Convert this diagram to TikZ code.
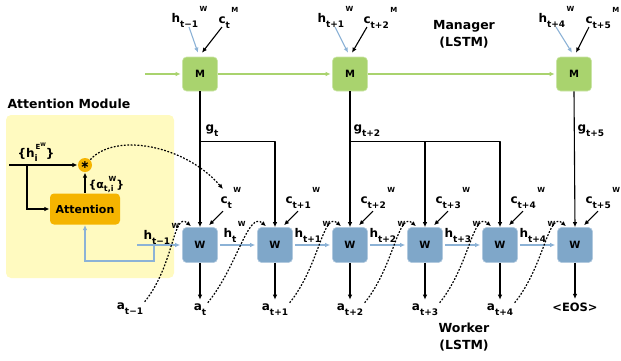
\documentclass[tikz,border=0pt]{standalone}
\usepackage{fontspec}
\setmainfont{DejaVu Sans}
\usetikzlibrary{arrows.meta,calc}
\definecolor{mgreen}{RGB}{169,211,110}
\definecolor{wblue}{RGB}{127,167,201}
\definecolor{lblue}{RGB}{140,178,214}
\definecolor{attorange}{RGB}{245,180,0}
\definecolor{attyellow}{RGB}{255,250,192}
\newcommand{\tvar}[3]{#1\raisebox{-5pt}{\fontsize{9}{9}\selectfont#2}\hspace{1.5pt}\raisebox{11pt}{\fontsize{7}{7}\selectfont#3}}
\newcommand{\tsub}[2]{#1\raisebox{-5pt}{\fontsize{9}{9}\selectfont#2}}
\begin{document}
\begin{tikzpicture}[x=1pt,y=-1pt,line join=round,line width=1.1pt,>={Latex[length=5pt,width=4.5pt]}]
\tikzset{every node/.style={inner sep=0pt,font=\bfseries\fontsize{12}{12}\selectfont},
  mgr/.style={fill=mgreen,draw=mgreen!60!white,line width=0.6pt,rounded corners=4pt,minimum width=35pt,minimum height=34pt,font=\bfseries\fontsize{10}{10}\selectfont},
  wrk/.style={fill=wblue,draw=wblue!60!white,line width=0.6pt,rounded corners=4pt,minimum width=35pt,minimum height=35pt,font=\bfseries\fontsize{10}{10}\selectfont},
  lab/.style={anchor=base west},
  outlab/.style={anchor=base},
  title/.style={font=\bfseries\fontsize{12.5}{17}\selectfont,align=center},
  garrow/.style={mgreen,->},
  barrow/.style={lblue,->},
  dots/.style={->,dash pattern=on 1.8pt off 1.6pt,line width=1.2pt}}
\useasboundingbox (0,0) rectangle (621,360);
\fill[attyellow,rounded corners=5pt] (6,115) rectangle (174,278);
\node[lab,font=\bfseries\fontsize{12.5}{12.5}\selectfont] (atttitle) at (7,108) {Attention Module};
\node[title] (mgrtitle) at (464,34) {Manager\\(LSTM)};
\node[title] (wrktitle) at (464,337) {Worker\\(LSTM)};
\node[mgr] (m1) at (200,74) {M};
\node[mgr] (m2) at (350,74) {M};
\node[mgr] (m3) at (574,74) {M};
\foreach \i in {1,...,6}
  \node[wrk] (w\i) at ({125+75*\i},245) {W};
\node[fill=attorange,rounded corners=4pt,minimum width=70pt,minimum height=31pt,font=\bfseries\fontsize{11}{11}\selectfont] (att) at (85,209) {Attention};
\node[circle,fill=attorange,minimum size=14pt,font=\bfseries\fontsize{11}{11}\selectfont] (star) at (85,165) {∗};
\node[lab] (hm1) at (171,22) {\tvar{h}{t−1}{W}};
\node[lab] (cm1) at (218,23) {\tvar{c}{t}{M}};
\node[lab] (hm2) at (317,22) {\tvar{h}{t+1}{W}};
\node[lab] (cm2) at (363,23) {\tvar{c}{t+2}{M}};
\node[lab] (hm3) at (538,22) {\tvar{h}{t+4}{W}};
\node[lab] (cm3) at (585,23) {\tvar{c}{t+5}{M}};
\foreach \i in {1,2,3}{
  \draw[barrow] ($(hm\i.base west)+(18,5)$) -- ($(m\i.north)+(-2,-4)$);
  \draw[->] ($(cm\i.base west)+(4,4)$) -- ($(m\i.north)+(2,-4)$);
}
\coordinate (mstart) at (145,74);
\draw[garrow,shorten >=1.5pt] (mstart) -- (m1.west);
\draw[garrow,shorten >=1.5pt] (m1.east) -- (m2.west);
\draw[garrow,shorten >=1.5pt] (m2.east) -- (m3.west);
\draw[->] (m1.south) -- (w1.north);
\draw[->] ($(m1.south)+(0,50)$) -| (w2.north);
\draw[->] (m2.south) -- (w3.north);
\path ($(m2.south)+(0,50)$) coordinate (g2);
\draw[->] (g2) -| (w5.north);
\draw[->] (g2 -| w4.north) -- (w4.north);
\draw[->] (m3.south) -- (w6.north);
\node[lab] (gt1) at (205,131) {\tsub{g}{t}};
\node[lab] (gt2) at (353,131) {\tsub{g}{t+2}};
\node[lab] (gt3) at (577,131) {\tsub{g}{t+5}};
\foreach \i/\cx/\s in {1/220/t,2/285/t+1,3/360/t+2,4/435/t+3,5/510/t+4,6/585/t+5}{
  \node[lab] (cw\i) at (\cx,203) {\tvar{c}{\s}{W}};
  \draw[->] ($(w\i.north)+(23,-16)$) -- ($(w\i.north)+(9,-2)$);
}
\node[lab] (hw0) at (143,239) {\tvar{h}{t−1}{W}};
\node[lab] (hw1) at (223,237) {\tvar{h}{t}{W}};
\foreach \i/\s in {2/t+1,3/t+2,4/t+3,5/t+4}
  \node[lab] (hw\i) at ({144+75*\i},237) {\tvar{h}{\s}{W}};
\foreach \i/\j in {1/2,2/3,3/4,4/5,5/6}
  \draw[barrow,shorten <=2pt,shorten >=2pt] (w\i.east) -- (w\j.west);
\coordinate (hprev) at (137,245);
\coordinate (hsplit) at (154,245);
\draw[barrow,shorten >=2pt] (hprev) -- (w1.west);
\draw[barrow,line join=miter] (hsplit) -- ++(0,16) -| (att.south);
\coordinate (hein) at (9,165);
\coordinate (hesplit) at (27,165);
\draw[->] (hein) -- (star.west);
\draw[->,line join=miter] (hesplit) |- (att.west);
\node[lab] (helab) at (17,157) {\{h\rlap{\raisebox{-4pt}{\fontsize{9}{9}\selectfont i}}\hspace{1pt}\raisebox{8pt}{\fontsize{7}{7}\selectfont E\raisebox{3pt}{\fontsize{5}{5}\selectfont W}}\}};
\node[lab] (alab) at (88,188) {\fontsize{11}{11}\selectfont\{α\raisebox{-3pt}{\fontsize{8}{8}\selectfont t,i}\hspace{-5pt}\raisebox{7pt}{\fontsize{7}{7}\selectfont W}\}};
\draw[->] (att.north) -- (star.south);
\draw[dots] (star.north east) .. controls (115,132) and (185,145) .. ($(cw1.base west)+(3,-14)$);
\node[outlab] (a0) at (130,309) {\tsub{a}{t−1}};
\node[outlab] (a1) at (200,310) {\tsub{a}{t}};
\foreach \i/\s in {2/t+1,3/t+2,4/t+3,5/t+4}
  \node[outlab] (a\i) at ({125+75*\i},310) {\tsub{a}{\s}};
\node[outlab,font=\bfseries\fontsize{11.5}{11.5}\selectfont] (eos) at (575,311) {<EOS>};
\foreach \i in {1,...,5}
  \draw[->,shorten >=3pt] (w\i.south) -- (a\i.north);
\draw[->,shorten >=3pt] (w6.south) -- (eos.north);
\foreach \i/\j in {0/1,1/2,2/3,3/4,4/5,5/6}
  \draw[dots] ($(a\i.north east)+(1,0)$) .. controls +(30,-37) and +(-18,-16) .. ($(w\j.north)+(-9,-1)$);
\end{tikzpicture}
\end{document}
